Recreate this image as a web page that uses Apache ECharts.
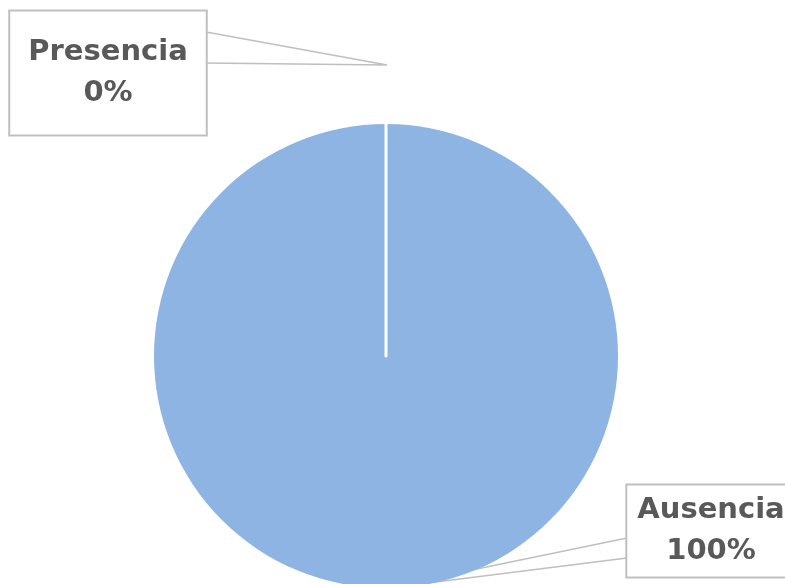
<!DOCTYPE html>
<html>
<head>
<meta charset="utf-8">
<script src="https://cdn.jsdelivr.net/npm/echarts@6/dist/echarts.min.js"></script>
<style>html,body{margin:0;padding:0;background:#fff;}#c{width:785px;height:584px;}</style>
</head>
<body>
<div id="c"></div>
<script>
// Data (drawing order: the zero slice last so its white edge shows on top)
var categories = ['Ausencia', 'Presencia'];
var values = [100, 0];

// Label layout (text centre and callout pointer polyline)
var labelBoxes = {
  'Presencia': { x: 108, y: 73, line: [[206, 32], [387, 65], [206, 63]] },
  'Ausencia': { x: 711, y: 531, line: [[627, 538], [380, 589], [627, 558]] }
};

var chart = echarts.init(document.getElementById('c'), null, { renderer: 'canvas' });

var data = categories.map(function (name, i) {
  var d = { name: name, value: values[i] };
  if (values[i] === 0) {
    d.itemStyle = { borderColor: '#ffffff', borderWidth: 3 };
  }
  return d;
});

chart.setOption({
  animation: false,
  backgroundColor: '#ffffff',
  series: [{
    type: 'pie',
    center: [386, 356],
    radius: 232,
    startAngle: 90,
    clockwise: true,
    silent: true,
    itemStyle: { color: '#8EB4E3' },
    emphasis: { disabled: true },
    label: {
      show: true,
      formatter: '{b}\n{d}%',
      fontFamily: 'DejaVu Sans',
      fontWeight: 'bold',
      fontSize: 29,
      lineHeight: 41,
      color: '#595959',
      align: 'center',
      backgroundColor: '#ffffff',
      borderColor: '#BFBFBF',
      borderWidth: 2
    },
    labelLine: {
      show: true,
      lineStyle: { color: '#BFBFBF', width: 1.5 }
    },
    labelLayout: function (p) {
      var b = labelBoxes[p.text.split('\n')[0]];
      if (!b) return {};
      return {
        x: b.x,
        y: b.y,
        align: 'center',
        verticalAlign: 'middle',
        labelLinePoints: b.line
      };
    },
    data: data.map(function (d) {
      var pad = d.name === 'Presencia' ? [21, 18, 20, 18] : [5, 10, 4, 10];
      d.label = { padding: pad };
      return d;
    })
  }]
});
</script>
</body>
</html>
